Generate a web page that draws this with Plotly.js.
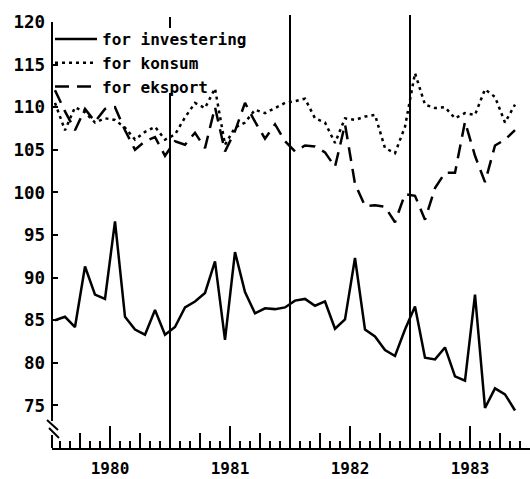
<!DOCTYPE html>
<html>
<head>
<meta charset="utf-8">
<script src="https://cdn.plot.ly/plotly-3.0.1.min.js"></script>
<style>html,body{margin:0;padding:0;background:#fff;}#chart{width:530px;height:479px;}</style>
</head>
<body>
<div id="chart"></div>
<script>
// Monthly index values, Jan 1980 - Nov 1983
const investering = [85.0, 85.4, 84.2, 91.3, 88.0, 87.5, 96.6, 85.4, 83.9, 83.3, 86.2, 83.3,
  84.2, 86.5, 87.2, 88.2, 91.9, 82.7, 93.0, 88.3, 85.8, 86.4, 86.3, 86.5,
  87.3, 87.5, 86.7, 87.2, 84.0, 85.1, 92.3, 83.9, 83.1, 81.5, 80.8, 83.9,
  86.6, 80.6, 80.4, 81.8, 78.4, 77.9, 88.0, 74.7, 77.0, 76.3, 74.4];
const konsum = [110.5, 107.3, 110.0, 109.4, 108.2, 108.7, 108.5, 107.6, 106.2, 107.1, 107.7, 106.2,
  106.8, 108.8, 110.5, 109.9, 112.2, 105.6, 107.6, 108.2, 109.7, 109.3, 109.9, 110.5,
  110.7, 111.0, 108.7, 108.2, 105.8, 108.7, 108.5, 108.9, 109.1, 105.2, 104.6, 107.7,
  114.0, 110.3, 109.9, 110.0, 108.7, 109.3, 109.1, 112.1, 111.2, 108.2, 110.3];
const eksport = [112.0, 109.5, 107.3, 109.8, 108.3, 109.8, 110.0, 107.3, 105.0, 106.0, 106.5, 104.3,
  106.0, 105.6, 107.0, 105.2, 110.0, 104.8, 107.2, 110.5, 108.3, 106.3, 108.0, 106.0,
  104.8, 105.5, 105.4, 104.7, 103.0, 108.0, 101.0, 98.4, 98.5, 98.3, 96.5, 99.8,
  99.6, 96.8, 100.5, 102.3, 102.3, 108.3, 104.3, 101.2, 105.5, 106.2, 107.3];
const seriesNames = ['for investering', 'for konsum', 'for eksport'];
const yearLabels = ['1980', '1981', '1982', '1983'];
const yTickValues = [75, 80, 85, 90, 95, 100, 105, 110, 115, 120];

// month position on axis: month i is centred at i + 0.5 (year boundaries at 12, 24, 36)
const xPos = investering.map((_, i) => i + 0.5);
const yearMid = yearLabels.map((_, k) => 12 * k + 6);
const quarterTicks = [];
for (let k = 0; k < 4; k++) { quarterTicks.push(12 * k + 3, 12 * k + 9); }
const yearBounds = [12, 24, 36];

const FONT = 'DejaVu Sans Mono';
const W = 530, H = 479, ML = 52, MR = 0, MT = 22, MB = 31;
const PW = W - ML - MR, PH = H - MT - MB;
const px2x = p => (p - ML) / PW;
const px2y = p => (H - MB - p) / PH;

const lineStyle = { color: '#000', width: 2.5 };
const traces = [
  { x: xPos, y: investering, name: seriesNames[0], mode: 'lines', line: Object.assign({}, lineStyle, { dash: 'solid' }) },
  { x: xPos, y: konsum, name: seriesNames[1], mode: 'lines', line: Object.assign({}, lineStyle, { dash: '3px,4px' }) },
  { x: xPos, y: eksport, name: seriesNames[2], mode: 'lines', line: Object.assign({}, lineStyle, { dash: '14px,8px' }) },
  { x: [], y: [], xaxis: 'x2', showlegend: false, hoverinfo: 'skip' },
  { x: [], y: [], xaxis: 'x3', showlegend: false, hoverinfo: 'skip' }
];

const xr = [0.2, 48];
const shapes = [];
// year boundary lines
yearBounds.forEach((b, k) => {
  if (k === 0) {
    shapes.push({ type: 'line', xref: 'x', yref: 'paper', x0: b, x1: b, y0: 0, y1: px2y(93), line: { color: '#000', width: 2 } });
    shapes.push({ type: 'line', xref: 'x', yref: 'paper', x0: b, x1: b, y0: px2y(28), y1: px2y(17), line: { color: '#000', width: 2 } });
  } else {
    shapes.push({ type: 'line', xref: 'x', yref: 'paper', x0: b, x1: b, y0: 0, y1: px2y(15), line: { color: '#000', width: 2 } });
  }
});
// y-axis line with break
shapes.push({ type: 'line', xref: 'paper', yref: 'paper', x0: 0, x1: 0, y0: 1, y1: px2y(421), line: { color: '#000', width: 2 } });
shapes.push({ type: 'line', xref: 'paper', yref: 'paper', x0: 0, x1: 0, y0: px2y(435), y1: 0, line: { color: '#000', width: 2 } });
shapes.push({ type: 'line', xref: 'paper', yref: 'paper', x0: px2x(47), x1: px2x(58), y0: px2y(420), y1: px2y(430), line: { color: '#000', width: 2 } });
shapes.push({ type: 'line', xref: 'paper', yref: 'paper', x0: px2x(49), x1: px2x(59), y0: px2y(428), y1: px2y(438), line: { color: '#000', width: 2 } });

const xTickFont = { family: FONT, size: 16, color: '#000', weight: 'bold' };
const yTickFont = { family: FONT, size: 17.5, color: '#000', weight: 'bold' };
const layout = {
  width: W, height: H,
  margin: { l: ML, r: MR, t: MT, b: MB, pad: 0 },
  paper_bgcolor: '#fff', plot_bgcolor: '#fff',
  showlegend: true,
  legend: {
    x: px2x(50), y: px2y(22), xanchor: 'left', yanchor: 'top',
    bgcolor: 'rgba(0,0,0,0)', borderwidth: 0,
    font: { family: FONT, size: 16, color: '#000', weight: 'bold' },
    itemwidth: 42, tracegroupgap: 0
  },
  xaxis: {
    range: xr, showgrid: false, zeroline: false,
    showline: true, linecolor: '#000', linewidth: 2,
    tickmode: 'linear', tick0: 0, dtick: 1,
    ticks: 'inside', ticklen: 7, tickwidth: 2, tickcolor: '#000',
    showticklabels: false, fixedrange: true
  },
  xaxis2: {
    overlaying: 'x', anchor: 'y', range: xr, showgrid: false, zeroline: false, showline: false,
    tickmode: 'array', tickvals: quarterTicks,
    ticks: 'inside', ticklen: 15, tickwidth: 2, tickcolor: '#000', showticklabels: false
  },
  xaxis3: {
    overlaying: 'x', anchor: 'y', range: xr, showgrid: false, zeroline: false, showline: false,
    tickmode: 'array', tickvals: yearMid, ticktext: yearLabels,
    ticks: 'inside', ticklen: 22, tickwidth: 2, tickcolor: '#000',
    tickfont: xTickFont, side: 'bottom', ticklabelstandoff: 9
  },
  yaxis: {
    range: [70, 120], showgrid: false, zeroline: false, showline: false,
    tickmode: 'array', tickvals: yTickValues,
    ticks: 'inside', ticklen: 6, tickwidth: 2, tickcolor: '#000',
    tickfont: yTickFont, fixedrange: true, ticklabelstandoff: 6
  },
  shapes: shapes
};

Plotly.newPlot('chart', traces, layout, { staticPlot: true, displayModeBar: false });
</script>
</body>
</html>
